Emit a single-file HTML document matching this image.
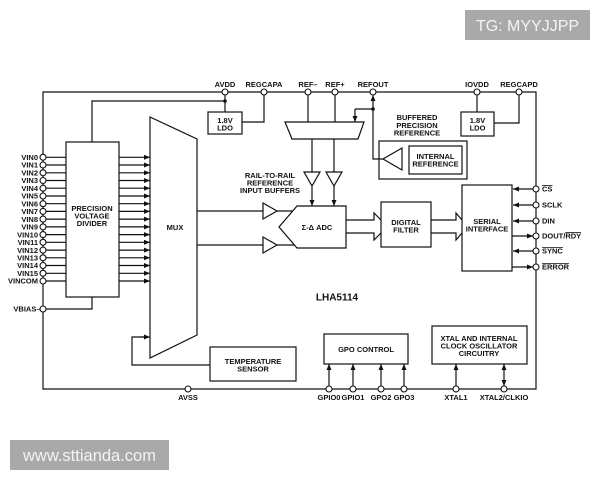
<!DOCTYPE html>
<html><head><meta charset="utf-8"><style>
html,body{margin:0;padding:0;background:#fff;}
svg{display:block;}
text{font-family:"Liberation Sans",Arial,sans-serif;font-weight:bold;font-size:7.5px;fill:#111;}
.c{text-anchor:middle;}
.e{text-anchor:end;}
</style></head><body>
<svg width="600" height="480" viewBox="0 0 600 480" xmlns="http://www.w3.org/2000/svg">
<defs>
<marker id="a" markerWidth="6" markerHeight="5" refX="6" refY="2.5" orient="auto-start-reverse" markerUnits="userSpaceOnUse"><path d="M0,0 L6,2.5 L0,5z" fill="#111"/></marker>
</defs>
<g stroke="#111" stroke-width="1.2" fill="none">
<path d="M43,92 H536 V389 H43 Z"/>
<path d="M92,142 V101 H225"/>
<path d="M225,92 V112"/>
<rect x="208" y="112" width="34" height="22" fill="#fff"/>
<path d="M264,92 V122 H242"/>
<path d="M308,92 V122 M335,92 V122"/>
<path d="M285,122 H364 L358,139 H292 Z" fill="#fff"/>
<line x1="373" y1="109" x2="373" y2="95" marker-end="url(#a)"/>
<path d="M373,109 V159 H383"/>
<path d="M373,109 H355"/>
<line x1="355" y1="109" x2="355" y2="122" marker-end="url(#a)"/>
<rect x="379" y="141" width="88" height="38"/>
<rect x="409" y="146" width="53" height="28"/>
<path d="M402,148 L383,159 L402,170 Z"/>
<path d="M477,92 V112"/>
<rect x="461" y="112" width="33" height="24" fill="#fff"/>
<path d="M519,92 V123 H494"/>
<path d="M312,139 V172 M334,139 V172"/>
<path d="M304,172 H320 L312,186 Z M326,172 H342 L334,186 Z"/>
<line x1="312" y1="186" x2="312" y2="206" marker-end="url(#a)"/>
<line x1="334" y1="186" x2="334" y2="206" marker-end="url(#a)"/>
<path d="M297,206 H346 V248 H297 L279,227 Z"/>
<path d="M197,211 H263 M277,211 H293 M197,245 H263 M277,245 H294"/>
<path d="M263,203 L277,211 L263,219 Z M263,237 L277,245 L263,253 Z"/>
<path d="M346,220 H374 V213 L381,220 M346,233 H374 V240 L381,233"/>
<rect x="381" y="202" width="50" height="45"/>
<path d="M431,220 H456 V213 L462,220 M431,233 H456 V240 L462,233"/>
<rect x="462" y="185" width="50" height="86"/>
<line x1="533" y1="189" x2="513" y2="189" marker-end="url(#a)"/>
<line x1="533" y1="205" x2="513" y2="205" marker-end="url(#a)"/>
<line x1="533" y1="221" x2="513" y2="221" marker-end="url(#a)"/>
<line x1="512" y1="236" x2="533" y2="236" marker-end="url(#a)"/>
<line x1="533" y1="251" x2="513" y2="251" marker-end="url(#a)"/>
<line x1="512" y1="267" x2="533" y2="267" marker-end="url(#a)"/>
<path d="M150,117 L197,139 V335 L150,358 Z"/>
<rect x="66" y="142" width="53" height="155"/>
<path d="M46,309 H92 V297"/>
<rect x="210" y="347" width="86" height="34"/>
<path d="M210,365 H132 V337 H144"/>
<line x1="140" y1="337" x2="150" y2="337" marker-end="url(#a)"/>
<rect x="324" y="334" width="84" height="30"/>
<line x1="329" y1="386" x2="329" y2="364" marker-end="url(#a)"/>
<line x1="353" y1="386" x2="353" y2="364" marker-end="url(#a)"/>
<line x1="381" y1="386" x2="381" y2="364" marker-end="url(#a)"/>
<line x1="404" y1="386" x2="404" y2="364" marker-end="url(#a)"/>
<rect x="432" y="326" width="95" height="38"/>
<line x1="456" y1="386" x2="456" y2="364" marker-end="url(#a)"/>
<line x1="504" y1="386" x2="504" y2="364" marker-start="url(#a)" marker-end="url(#a)"/>
<path d="M46,157.3H66M46,165H66M46,172.8H66M46,180.5H66M46,188.2H66M46,196H66M46,203.7H66M46,211.4H66M46,219.1H66M46,226.9H66M46,234.6H66M46,242.3H66M46,250.1H66M46,257.8H66M46,265.5H66M46,273.3H66M46,281H66"/>
</g>
<g stroke="#111" stroke-width="1.2" fill="none">
<line x1="119" y1="157.3" x2="150" y2="157.3" marker-end="url(#a)"/>
<line x1="119" y1="165" x2="150" y2="165" marker-end="url(#a)"/>
<line x1="119" y1="172.8" x2="150" y2="172.8" marker-end="url(#a)"/>
<line x1="119" y1="180.5" x2="150" y2="180.5" marker-end="url(#a)"/>
<line x1="119" y1="188.2" x2="150" y2="188.2" marker-end="url(#a)"/>
<line x1="119" y1="196" x2="150" y2="196" marker-end="url(#a)"/>
<line x1="119" y1="203.7" x2="150" y2="203.7" marker-end="url(#a)"/>
<line x1="119" y1="211.4" x2="150" y2="211.4" marker-end="url(#a)"/>
<line x1="119" y1="219.1" x2="150" y2="219.1" marker-end="url(#a)"/>
<line x1="119" y1="226.9" x2="150" y2="226.9" marker-end="url(#a)"/>
<line x1="119" y1="234.6" x2="150" y2="234.6" marker-end="url(#a)"/>
<line x1="119" y1="242.3" x2="150" y2="242.3" marker-end="url(#a)"/>
<line x1="119" y1="250.1" x2="150" y2="250.1" marker-end="url(#a)"/>
<line x1="119" y1="257.8" x2="150" y2="257.8" marker-end="url(#a)"/>
<line x1="119" y1="265.5" x2="150" y2="265.5" marker-end="url(#a)"/>
<line x1="119" y1="273.3" x2="150" y2="273.3" marker-end="url(#a)"/>
<line x1="119" y1="281" x2="150" y2="281" marker-end="url(#a)"/>
</g>
<circle cx="225" cy="101" r="1.8" fill="#111"/>
<circle cx="373" cy="109" r="1.8" fill="#111"/>
<g stroke="#111" stroke-width="1.1" fill="#fff">
<circle cx="225" cy="92" r="3"/><circle cx="264" cy="92" r="3"/><circle cx="308" cy="92" r="3"/><circle cx="335" cy="92" r="3"/><circle cx="373" cy="92" r="3"/><circle cx="477" cy="92" r="3"/><circle cx="519" cy="92" r="3"/>
<circle cx="188" cy="389" r="3"/><circle cx="329" cy="389" r="3"/><circle cx="353" cy="389" r="3"/><circle cx="381" cy="389" r="3"/><circle cx="404" cy="389" r="3"/><circle cx="456" cy="389" r="3"/><circle cx="504" cy="389" r="3"/>
<circle cx="536" cy="189" r="3"/><circle cx="536" cy="205" r="3"/><circle cx="536" cy="221" r="3"/><circle cx="536" cy="236" r="3"/><circle cx="536" cy="251" r="3"/><circle cx="536" cy="267" r="3"/>
<circle cx="43" cy="309" r="3"/>
<circle cx="43" cy="157.3" r="3"/><circle cx="43" cy="165" r="3"/><circle cx="43" cy="172.8" r="3"/><circle cx="43" cy="180.5" r="3"/><circle cx="43" cy="188.2" r="3"/><circle cx="43" cy="196" r="3"/><circle cx="43" cy="203.7" r="3"/><circle cx="43" cy="211.4" r="3"/><circle cx="43" cy="219.1" r="3"/><circle cx="43" cy="226.9" r="3"/><circle cx="43" cy="234.6" r="3"/><circle cx="43" cy="242.3" r="3"/><circle cx="43" cy="250.1" r="3"/><circle cx="43" cy="257.8" r="3"/><circle cx="43" cy="265.5" r="3"/><circle cx="43" cy="273.3" r="3"/><circle cx="43" cy="281" r="3"/>
</g>
<text class="c" x="225" y="87">AVDD</text>
<text class="c" x="264" y="87">REGCAPA</text>
<text class="c" x="308" y="87">REF–</text>
<text class="c" x="335" y="87">REF+</text>
<text class="c" x="373" y="87">REFOUT</text>
<text class="c" x="477" y="87">IOVDD</text>
<text class="c" x="519" y="87">REGCAPD</text>
<text class="c" x="225" y="123">1.8V</text><text class="c" x="225" y="130.5">LDO</text>
<text class="c" x="477.5" y="123">1.8V</text><text class="c" x="477.5" y="130.5">LDO</text>
<text class="c" x="417" y="120">BUFFERED</text>
<text class="c" x="417" y="128">PRECISION</text>
<text class="c" x="417" y="135.5">REFERENCE</text>
<text class="c" x="435.5" y="159">INTERNAL</text>
<text class="c" x="435.5" y="166.5">REFERENCE</text>
<text class="c" x="270" y="178">RAIL-TO-RAIL</text>
<text class="c" x="270" y="185.5">REFERENCE</text>
<text class="c" x="270" y="193">INPUT BUFFERS</text>
<text class="c" x="317" y="230">Σ-Δ ADC</text>
<text class="c" x="406" y="225">DIGITAL</text>
<text class="c" x="406" y="232.5">FILTER</text>
<text class="c" x="487" y="224">SERIAL</text>
<text class="c" x="487" y="231.5">INTERFACE</text>
<text class="c" x="175" y="230">MUX</text>
<text class="c" x="92" y="211">PRECISION</text>
<text class="c" x="92" y="218.5">VOLTAGE</text>
<text class="c" x="92" y="226">DIVIDER</text>
<text class="c" x="337" y="300.5" style="font-size:10px">LHA5114</text>
<text class="c" x="253" y="364">TEMPERATURE</text>
<text class="c" x="253" y="371.5">SENSOR</text>
<text class="c" x="366" y="352">GPO CONTROL</text>
<text class="c" x="479" y="341">XTAL AND INTERNAL</text>
<text class="c" x="479" y="348.5">CLOCK OSCILLATOR</text>
<text class="c" x="479" y="356">CIRCUITRY</text>
<text class="c" x="188" y="400">AVSS</text>
<text class="c" x="329" y="400">GPIO0</text>
<text class="c" x="353" y="400">GPIO1</text>
<text class="c" x="381" y="400">GPO2</text>
<text class="c" x="404" y="400">GPO3</text>
<text class="c" x="456" y="400">XTAL1</text>
<text class="c" x="504" y="400">XTAL2/CLKIO</text>
<text x="542" y="191.7">CS</text>
<text x="542" y="207.7">SCLK</text>
<text x="542" y="223.7">DIN</text>
<text x="542" y="238.7">DOUT/RDY</text>
<text x="542" y="253.7">SYNC</text>
<text x="542" y="269.7">ERROR</text>
<g stroke="#111" stroke-width="0.8">
<line x1="542" y1="185.5" x2="552.5" y2="185.5"/>
<line x1="565.3" y1="232.5" x2="581" y2="232.5"/>
<line x1="542" y1="247.5" x2="563" y2="247.5"/>
<line x1="542" y1="263.5" x2="569" y2="263.5"/>
</g>
<text class="e" x="38" y="160">VIN0</text>
<text class="e" x="38" y="167.7">VIN1</text>
<text class="e" x="38" y="175.5">VIN2</text>
<text class="e" x="38" y="183.2">VIN3</text>
<text class="e" x="38" y="190.9">VIN4</text>
<text class="e" x="38" y="198.7">VIN5</text>
<text class="e" x="38" y="206.4">VIN6</text>
<text class="e" x="38" y="214.1">VIN7</text>
<text class="e" x="38" y="221.8">VIN8</text>
<text class="e" x="38" y="229.6">VIN9</text>
<text class="e" x="38" y="237.3">VIN10</text>
<text class="e" x="38" y="245">VIN11</text>
<text class="e" x="38" y="252.8">VIN12</text>
<text class="e" x="38" y="260.5">VIN13</text>
<text class="e" x="38" y="268.2">VIN14</text>
<text class="e" x="38" y="276">VIN15</text>
<text class="e" x="38" y="283.7">VINCOM</text>
<text class="e" x="40.5" y="311.7">VBIAS–</text>
<rect x="465" y="10" width="125" height="30" fill="#a9a9a9"/>
<text x="527.5" y="31" class="c" style="font-weight:normal;font-size:16px;fill:#f4f4f4">TG: MYYJJPP</text>
<rect x="10" y="440" width="159" height="30" fill="#a9a9a9"/>
<text x="89.5" y="461" class="c" style="font-weight:normal;font-size:16.5px;fill:#f4f4f4">www.sttianda.com</text>
</svg>
</body></html>
